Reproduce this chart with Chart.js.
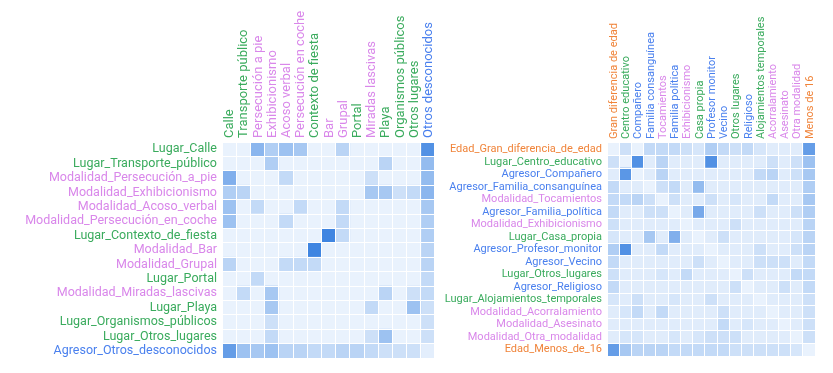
<!DOCTYPE html>
<html>
<head>
<meta charset="utf-8">
<script src="https://cdn.jsdelivr.net/npm/chart.js@4.4.1/dist/chart.umd.min.js"></script>
<style>
  html, body { margin: 0; padding: 0; background: #fff; }
  #wrap { position: relative; width: 833px; height: 373px; }
  .box { position: absolute; top: 0; height: 373px; }
</style>
</head>
<body>
<div id="wrap">
  <div class="box" style="left:0;width:440px"><canvas id="leftHeat"></canvas></div>
  <div class="box" style="left:440px;width:393px"><canvas id="rightHeat"></canvas></div>
</div>
<script>
// row categories (column labels are the same items without prefix)
const leftRows = [
  "Lugar_Calle", "Lugar_Transporte_público", "Modalidad_Persecución_a_pie",
  "Modalidad_Exhibicionismo", "Modalidad_Acoso_verbal", "Modalidad_Persecución_en_coche",
  "Lugar_Contexto_de_fiesta", "Modalidad_Bar", "Modalidad_Grupal", "Lugar_Portal",
  "Modalidad_Miradas_lascivas", "Lugar_Playa", "Lugar_Organismos_públicos",
  "Lugar_Otros_lugares", "Agresor_Otros_desconocidos"
];

const rightRows = [
  "Edad_Gran_diferencia_de_edad", "Lugar_Centro_educativo", "Agresor_Compañero",
  "Agresor_Familia_consanguínea", "Modalidad_Tocamientos", "Agresor_Familia_política",
  "Modalidad_Exhibicionismo", "Lugar_Casa_propia", "Agresor_Profesor_monitor",
  "Agresor_Vecino", "Lugar_Otros_lugares", "Agresor_Religioso",
  "Lugar_Alojamientos_temporales", "Modalidad_Acorralamiento", "Modalidad_Asesinato",
  "Modalidad_Otra_modalidad", "Edad_Menos_de_16"
];

// cell intensities, 0..10 (row by row)
const leftValues = [
  [0, 0, 5, 3, 4, 3.5, 0, 0, 2.5, 0, 0, 0, 0, 0, 8],
  [0, 0, 0, 3, 0, 0, 0, 0, 0, 0, 0, 2.5, 0, 0, 4.5],
  [5.5, 0, 0, 0, 2, 0, 0, 0, 0, 0, 1.5, 0, 0, 0, 4.5],
  [3, 2.5, 0, 0, 0, 0, 0, 0, 0, 0, 3.5, 3.5, 1.5, 2, 5],
  [4, 0, 2, 0, 0, 2, 0, 0, 2, 0, 0, 0, 0, 0, 3.5],
  [4, 0, 0, 0, 2, 0, 0, 0, 2, 0, 0, 0, 0, 0, 3],
  [0, 0, 0, 0, 0, 0, 0, 9, 2, 0, 0, 0, 0, 0, 3],
  [0, 0, 0, 0, 0, 0, 9, 0, 0, 0, 0, 0, 0, 0, 2.5],
  [2.5, 0, 0, 0, 2, 2, 2, 0, 0, 0, 0, 0, 0, 0, 2.5],
  [0, 0, 2, 0, 0, 0, 0, 0, 0, 0, 0, 0, 0, 0, 2],
  [0, 2, 0, 3.5, 0, 0, 0, 0, 0, 0, 0, 2.5, 0, 1.5, 2],
  [0, 0, 0, 3.5, 0, 0, 0, 0, 0, 0, 2, 0, 0, 4, 1.5],
  [0, 0, 0, 1.5, 0, 0, 0, 0, 0, 0, 0, 0, 0, 0, 1.5],
  [0, 0, 0, 2, 0, 0, 0, 0, 0, 0, 1.5, 4, 0, 0, 1.5],
  [7, 4, 3.5, 4, 2.5, 2.5, 2, 2, 2.5, 2.5, 2, 1.5, 1.5, 1.5, 0.3]
];

const rightValues = [
  [0, 1.5, 0, 2, 2, 2, 1.5, 1, 3, 2, 1.5, 2, 1, 0.5, 0.5, 0.5, 7],
  [1.5, 0, 8, 0.5, 2.5, 0.5, 0.5, 0.5, 8, 0.5, 0.5, 0.5, 0.5, 1.5, 0.5, 1.5, 4],
  [0.5, 7.5, 0, 0.5, 2.5, 0.5, 0.5, 0.5, 0.5, 0.5, 0.5, 0.5, 2, 2.5, 0.5, 1.5, 3.5],
  [2, 0.5, 0.5, 0, 1.5, 2, 0.5, 4.5, 0.5, 0.5, 0.5, 0.5, 0.5, 0.5, 0.5, 0.5, 3],
  [2, 2, 2.5, 1.5, 0, 1.5, 0.5, 0.5, 1.5, 0.5, 1, 0.5, 0.5, 2, 0.5, 0.5, 3.5],
  [2, 0.5, 0.5, 1.5, 1.5, 0, 0.5, 6, 0.5, 0.5, 0.5, 0.5, 1.5, 0.5, 0.5, 1.5, 3],
  [1.5, 0.5, 0.5, 0.5, 0.5, 0.5, 0, 0.5, 0.5, 0.5, 1.5, 0.5, 0.5, 0.5, 0.5, 0.5, 2.5],
  [1, 0.5, 0.5, 3.5, 0.5, 5.5, 0.5, 0, 0.5, 1.5, 0.5, 0.5, 0.5, 0.5, 0.5, 1, 2.5],
  [3, 8, 0.5, 0.5, 2, 0.5, 0.5, 0.5, 0, 0.5, 0.5, 0.5, 1.5, 0.5, 0.5, 1.5, 2.5],
  [2, 0.5, 0.5, 0.5, 0.5, 0.5, 0.5, 1.5, 0.5, 0, 0.5, 0.5, 1.5, 1.5, 1.5, 0.5, 2],
  [1.5, 0.5, 0.5, 0.5, 1, 0.5, 2, 0.5, 0.5, 0.5, 0, 1.5, 0.5, 0.5, 0.5, 2, 2],
  [2, 0.5, 0.5, 0.5, 0.5, 0.5, 0.5, 0.5, 0.5, 0.5, 1.5, 0, 0.5, 0.5, 1.5, 0.5, 2],
  [1, 0.5, 1.5, 0.5, 0.5, 1, 0.5, 0.5, 1.5, 0.5, 0.5, 0.5, 0, 0.5, 0.5, 0.5, 1.5],
  [0.5, 1, 2, 0.5, 2, 0.5, 0.5, 0.5, 0.5, 1.5, 0.5, 0.5, 0.5, 0, 0.5, 0.5, 1.5],
  [0.5, 0.5, 0.5, 0.5, 0.5, 0.5, 0.5, 0.5, 0.5, 2, 0.5, 1, 0.5, 0.5, 0, 0.5, 1.5],
  [0.5, 1, 1, 0.5, 0.5, 1, 0.5, 1, 1.5, 1.5, 1.5, 0.5, 0.5, 0.5, 0.5, 0, 1.5],
  [7, 3.5, 2.5, 2.5, 2.5, 2, 2, 2, 2, 2, 1.5, 1.5, 1.5, 1.5, 1.5, 1, 0]
];

const prefixColors = {
  Lugar: "#3aab5d",
  Modalidad: "#d987ea",
  Agresor: "#4a80ee",
  Edad: "#f0843a"
};

const light = [233, 242, 253];
const dark = [44, 121, 222];

function cellColor(v) {
  const t = Math.min(v / 10, 1);
  const c = light.map((l, i) => Math.round(l + (dark[i] - l) * t));
  return `rgb(${c[0]},${c[1]},${c[2]})`;
}

function labelColor(name) {
  return prefixColors[name.split("_")[0]];
}

function colLabel(name) {
  return name.split("_").slice(1).join(" ");
}

function heatmap(id, rows, values, opts) {
  const cols = rows.map(colLabel);
  const datasets = cols.map((c, j) => ({
    label: c,
    data: rows.map(() => 1),
    backgroundColor: rows.map((r, i) => cellColor(values[i][j])),
    borderWidth: 0,
    barPercentage: 1,
    categoryPercentage: 1
  }));

  new Chart(document.getElementById(id), {
    type: "bar",
    data: { labels: rows, datasets: datasets },
    options: {
      indexAxis: "y",
      responsive: true,
      maintainAspectRatio: false,
      animation: false,
      layout: { padding: { left: 0, top: 0, right: opts.padRight, bottom: opts.padBottom } },
      plugins: { legend: { display: false }, tooltip: { enabled: false } },
      scales: {
        y: {
          type: "category",
          stacked: true,
          position: "left",
          offset: true,
          grid: { offset: true, color: "#ffffff", lineWidth: 1, z: 1, drawTicks: false },
          border: { display: false },
          ticks: {
            font: { family: "Roboto", size: opts.rowFont },
            padding: 5,
            autoSkip: false,
            color: (ctx) => labelColor(rows[ctx.index])
          },
          afterFit: (s) => { s.width = opts.axisWidth; }
        },
        x: {
          type: "linear",
          stacked: true,
          min: 0,
          max: cols.length,
          display: false
        },
        xTop: {
          type: "category",
          labels: cols,
          position: "top",
          offset: true,
          grid: { offset: true, color: "#ffffff", lineWidth: 1, z: 1, drawTicks: false },
          border: { display: false },
          ticks: {
            font: { family: "Roboto", size: opts.colFont },
            padding: 4,
            autoSkip: false,
            minRotation: 90,
            maxRotation: 90,
            labelOffset: opts.colShift,
            color: (ctx) => labelColor(rows[ctx.index])
          },
          afterFit: (s) => { s.height = opts.axisHeight; }
        }
      }
    }
  });
}

heatmap("leftHeat", leftRows, leftValues, {
  rowFont: 12.5, colFont: 13, colShift: 16.5,
  axisWidth: 222, axisHeight: 142, padRight: 5, padBottom: 15
});
heatmap("rightHeat", rightRows, rightValues, {
  rowFont: 11, colFont: 11, colShift: 14.3,
  axisWidth: 167, axisHeight: 143, padRight: 18, padBottom: 17
});
</script>
</body>
</html>
